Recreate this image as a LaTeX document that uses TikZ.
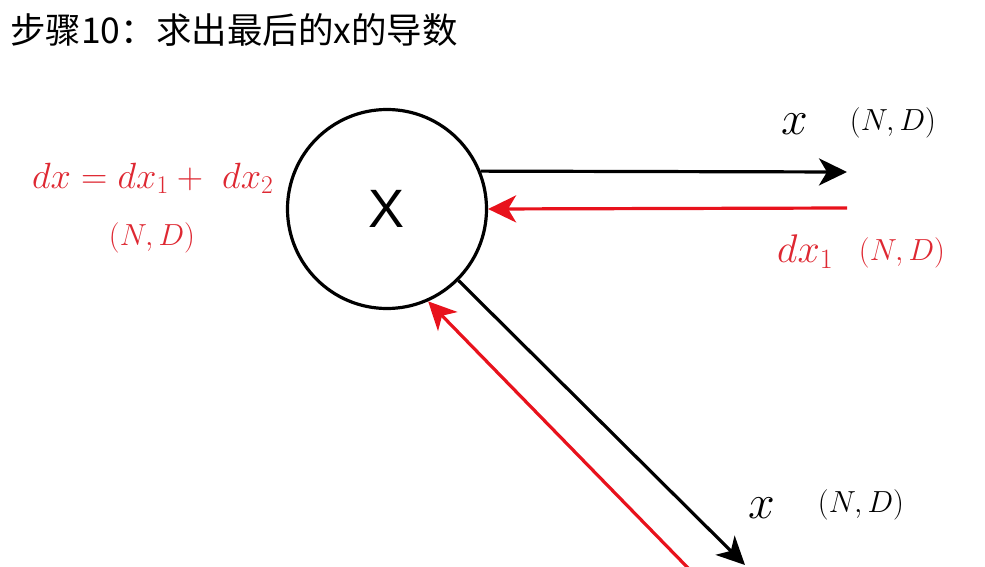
\RequirePackage{fix-cm}
\documentclass[tikz,border=0pt]{standalone}
\usepackage{fontspec}
\newfontfamily\cjk{Noto Sans CJK SC}
\setsansfont{Liberation Sans}
\usetikzlibrary{arrows.meta}
\definecolor{lred}{RGB}{232,18,28}
\definecolor{tred}{RGB}{222,40,50}
\begin{document}
\begin{tikzpicture}[x=1pt,y=-1pt,
  blk/.style={line width=3.2pt,black,-{Stealth[length=28pt,width=27pt,inset=8pt]}},
  rd/.style={line width=3.2pt,lred,-{Stealth[length=28pt,width=27pt,inset=8pt]}},
  xlab/.style={inner sep=0pt,font=\fontsize{48}{54}\selectfont},
  slab/.style={inner sep=0pt,font=\fontsize{30.5}{36}\selectfont}]
\useasboundingbox (0,0) rectangle (985,567);
\node[anchor=west,inner sep=0pt,font=\cjk\fontsize{35.5}{40}\selectfont] (title) at (10,30) {步骤10：求出最后的x的导数};
\node[circle,draw,line width=3.2pt,minimum size=199pt,inner sep=0pt,font=\sffamily\fontsize{54}{60}\selectfont] (X) at (387,209) {X};
\coordinate (h1e) at (847,172);
\coordinate (h2s) at (847,208);
\coordinate (d1e) at (745,565);
\coordinate (d2s) at (690,570);
\draw[blk] (X.22) -- (h1e);
\draw[rd] (h2s) -- (X.0);
\draw[blk] (X.-45) -- (d1e);
\draw[rd] (d2s) -- (X.-66);
\node[xlab] (xa) at (795,124) {$x$};
\node[slab] (nda) at (893,123) {$(N,D)$};
\node[inner sep=0pt,anchor=base west,tred,font=\fontsize{40}{46}\selectfont] (dx1) at (777,262) {$dx_{\scriptstyle 1}$};
\node[slab,tred] (ndb) at (902,253) {$(N,D)$};
\node[xlab] (xb) at (762,508) {$x$};
\node[slab] (ndc) at (861,505) {$(N,D)$};
\node[inner sep=0pt,anchor=base west,tred,font=\fontsize{36.5}{42}\selectfont] (sum) at (32,188) {$dx = dx_1 +\ dx_2$};
\node[slab,tred] (ndd) at (152,238) {$(N,D)$};
\end{tikzpicture}
\end{document}
